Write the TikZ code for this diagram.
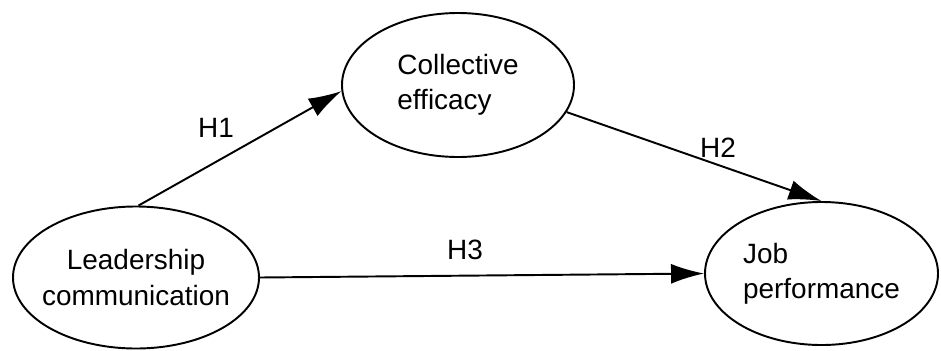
\documentclass[tikz,border=0pt]{standalone}
\usepackage{fontspec}
\setmainfont{Liberation Sans}
\usetikzlibrary{shapes.geometric, arrows.meta}
\tikzstyle{construct} = [ellipse, draw, line width=1.1pt, inner sep=-0.8cm, align=center, font=\fontsize{15.9}{20}\selectfont]
\tikzstyle{arrow} = [-{Latex[length=0.66cm,width=0.4cm]}, line width=1.1pt]
\tikzstyle{hyp} = [font=\fontsize{15.9}{20}\selectfont]

\begin{document}
\begin{tikzpicture}
\useasboundingbox (0,0) rectangle (18.82,7);
\node[construct, minimum width=4.64cm, minimum height=2.88cm, align=left] (ce) at (9.16,5.30) {Collective\\efficacy};
\node[construct, minimum width=4.92cm, minimum height=2.84cm] (lc) at (2.72,1.45) {Leadership\\communication};
\node[construct, minimum width=4.66cm, minimum height=2.86cm, align=left] (jp) at (16.43,1.53) {Job\\performance};
\draw[arrow] (lc.88) -- (ce.183);
\draw[arrow] (ce.-14) -- (jp.north);
\draw[arrow] (lc.east) -- (jp.west);
\node[hyp] (h1) at (4.32,4.44) {H1};
\node[hyp] (h2) at (14.36,4.04) {H2};
\node[hyp] (h3) at (9.30,2.00) {H3};
\end{tikzpicture}
\end{document}
